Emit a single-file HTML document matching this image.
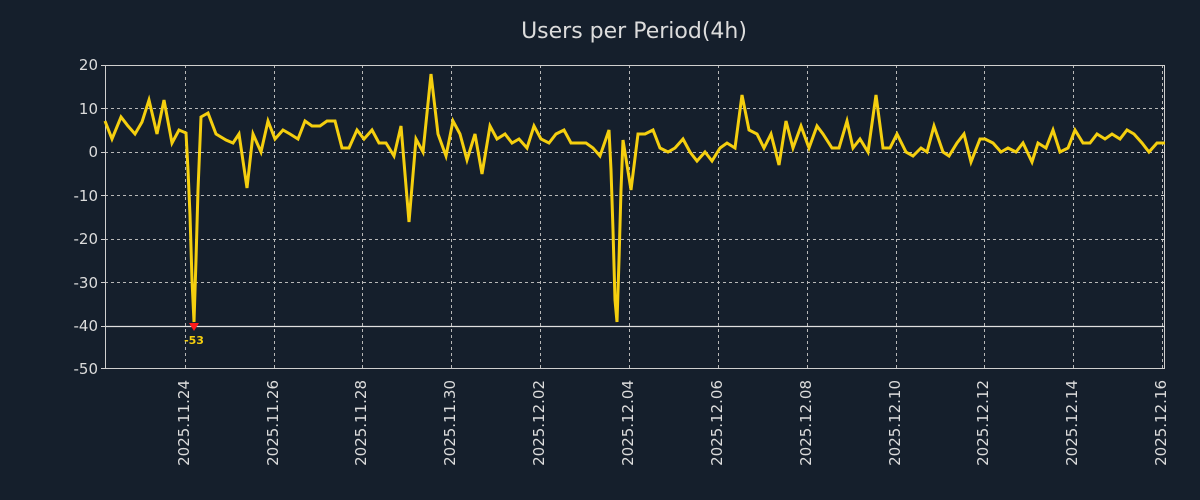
<!DOCTYPE html>
<html><head><meta charset="utf-8"><style>
html,body{margin:0;padding:0;background:#151f2c;}
svg{display:block;}
text{font-family:"DejaVu Sans","Liberation Sans",sans-serif;fill:#dcdcdc;}
</style></head><body>
<svg width="1200" height="500" viewBox="0 0 1200 500" xmlns="http://www.w3.org/2000/svg">
<rect width="1200" height="500" fill="#151f2c"/>
<text x="634" y="38" font-size="22" text-anchor="middle">Users per Period(4h)</text>
<g stroke="#b8b8b8" stroke-width="1" stroke-dasharray="3,3">
<line x1="105" x2="1165" y1="108.5" y2="108.5"/>
<line x1="105" x2="1165" y1="152.5" y2="152.5"/>
<line x1="105" x2="1165" y1="195.5" y2="195.5"/>
<line x1="105" x2="1165" y1="239.5" y2="239.5"/>
<line x1="105" x2="1165" y1="282.5" y2="282.5"/>
<line x1="185.5" x2="185.5" y1="65" y2="368"/>
<line x1="274.5" x2="274.5" y1="65" y2="368"/>
<line x1="362.5" x2="362.5" y1="65" y2="368"/>
<line x1="451.5" x2="451.5" y1="65" y2="368"/>
<line x1="540.5" x2="540.5" y1="65" y2="368"/>
<line x1="629.5" x2="629.5" y1="65" y2="368"/>
<line x1="718.5" x2="718.5" y1="65" y2="368"/>
<line x1="807.5" x2="807.5" y1="65" y2="368"/>
<line x1="896.5" x2="896.5" y1="65" y2="368"/>
<line x1="984.5" x2="984.5" y1="65" y2="368"/>
<line x1="1073.5" x2="1073.5" y1="65" y2="368"/>
<line x1="1162.5" x2="1162.5" y1="65" y2="368"/>
</g>
<line x1="105" x2="1165" y1="326.5" y2="326.5" stroke="#e0e0e0" stroke-width="1.2"/>
<rect x="105.5" y="65.5" width="1059" height="303" fill="none" stroke="#cfcfcf" stroke-width="1"/>
<g stroke="#cfcfcf" stroke-width="1">
<line x1="101" x2="105" y1="65.5" y2="65.5"/><line x1="101" x2="105" y1="108.5" y2="108.5"/><line x1="101" x2="105" y1="152.5" y2="152.5"/><line x1="101" x2="105" y1="195.5" y2="195.5"/><line x1="101" x2="105" y1="239.5" y2="239.5"/><line x1="101" x2="105" y1="282.5" y2="282.5"/><line x1="101" x2="105" y1="326.5" y2="326.5"/><line x1="101" x2="105" y1="368.5" y2="368.5"/>
<line x1="1161" x2="1165" y1="108.5" y2="108.5"/><line x1="1161" x2="1165" y1="152.5" y2="152.5"/><line x1="1161" x2="1165" y1="195.5" y2="195.5"/><line x1="1161" x2="1165" y1="239.5" y2="239.5"/><line x1="1161" x2="1165" y1="282.5" y2="282.5"/>
</g>
<g font-size="15" text-anchor="end">
<text x="98" y="70">20</text><text x="98" y="114">10</text><text x="98" y="157">0</text><text x="98" y="201">-10</text><text x="98" y="244">-20</text><text x="98" y="288">-30</text><text x="98" y="331">-40</text><text x="98" y="374">-50</text>
</g>
<g font-size="15" text-anchor="end">
<text transform="translate(189,380) rotate(-90)">2025.11.24</text>
<text transform="translate(278,380) rotate(-90)">2025.11.26</text>
<text transform="translate(366,380) rotate(-90)">2025.11.28</text>
<text transform="translate(455,380) rotate(-90)">2025.11.30</text>
<text transform="translate(544,380) rotate(-90)">2025.12.02</text>
<text transform="translate(633,380) rotate(-90)">2025.12.04</text>
<text transform="translate(722,380) rotate(-90)">2025.12.06</text>
<text transform="translate(811,380) rotate(-90)">2025.12.08</text>
<text transform="translate(900,380) rotate(-90)">2025.12.10</text>
<text transform="translate(988,380) rotate(-90)">2025.12.12</text>
<text transform="translate(1077,380) rotate(-90)">2025.12.14</text>
<text transform="translate(1166,380) rotate(-90)">2025.12.16</text>
</g>
<polyline fill="none" stroke="#f5cf0f" stroke-width="3" stroke-linejoin="miter" points="105,121 112,139 121,117 128,126 135,134 142,122 149,100 157,134 164,100 172,143 179,130 186,133 188,170 190,215 192,280 194,322 196,260 198,190 201,117 208,113 216,134 226,140 233,143 239,134 247,188 253,134 261,152 268,121 275,139 283,130 290,134 298,139 305,121 312,126 320,126 327,121 335,121 342,148 349,148 357,130 364,139 372,130 379,143 386,143 394,156 401,126 409,222 416,139 423,152 431,74 438,134 446,156 453,121 460,134 467,160 475,134 482,174 490,126 497,139 505,134 512,143 519,139 527,148 534,126 541,139 549,143 556,134 564,130 571,143 578,143 586,143 593,148 600,156 609,130 611,170 613,230 615,300 617,322 619,260 621,190 623,140 631,190 638,134 645,134 653,130 660,148 668,152 675,148 683,139 690,152 697,161 705,152 712,161 720,148 727,143 735,148 742,95 749,130 757,134 764,148 771,134 779,165 786,121 793,148 801,126 809,148 817,126 823,134 832,148 839,148 847,121 853,148 860,139 868,152 876,95 883,148 890,148 897,134 906,152 913,156 921,148 927,152 934,126 943,152 949,156 957,143 964,134 971,162 980,139 985,139 993,143 1001,152 1008,148 1016,152 1023,143 1032,162 1038,143 1046,148 1053,130 1060,152 1068,148 1075,130 1083,143 1090,143 1097,134 1105,139 1112,134 1120,139 1127,130 1134,134 1142,143 1149,152 1157,143 1165,143"/>
<polygon points="189,323 199,323 194,331" fill="#ff1a1a"/>
<text x="194" y="344" font-size="11" font-weight="bold" text-anchor="middle" style="fill:#f5cf0f">-53</text>
</svg>
</body></html>
